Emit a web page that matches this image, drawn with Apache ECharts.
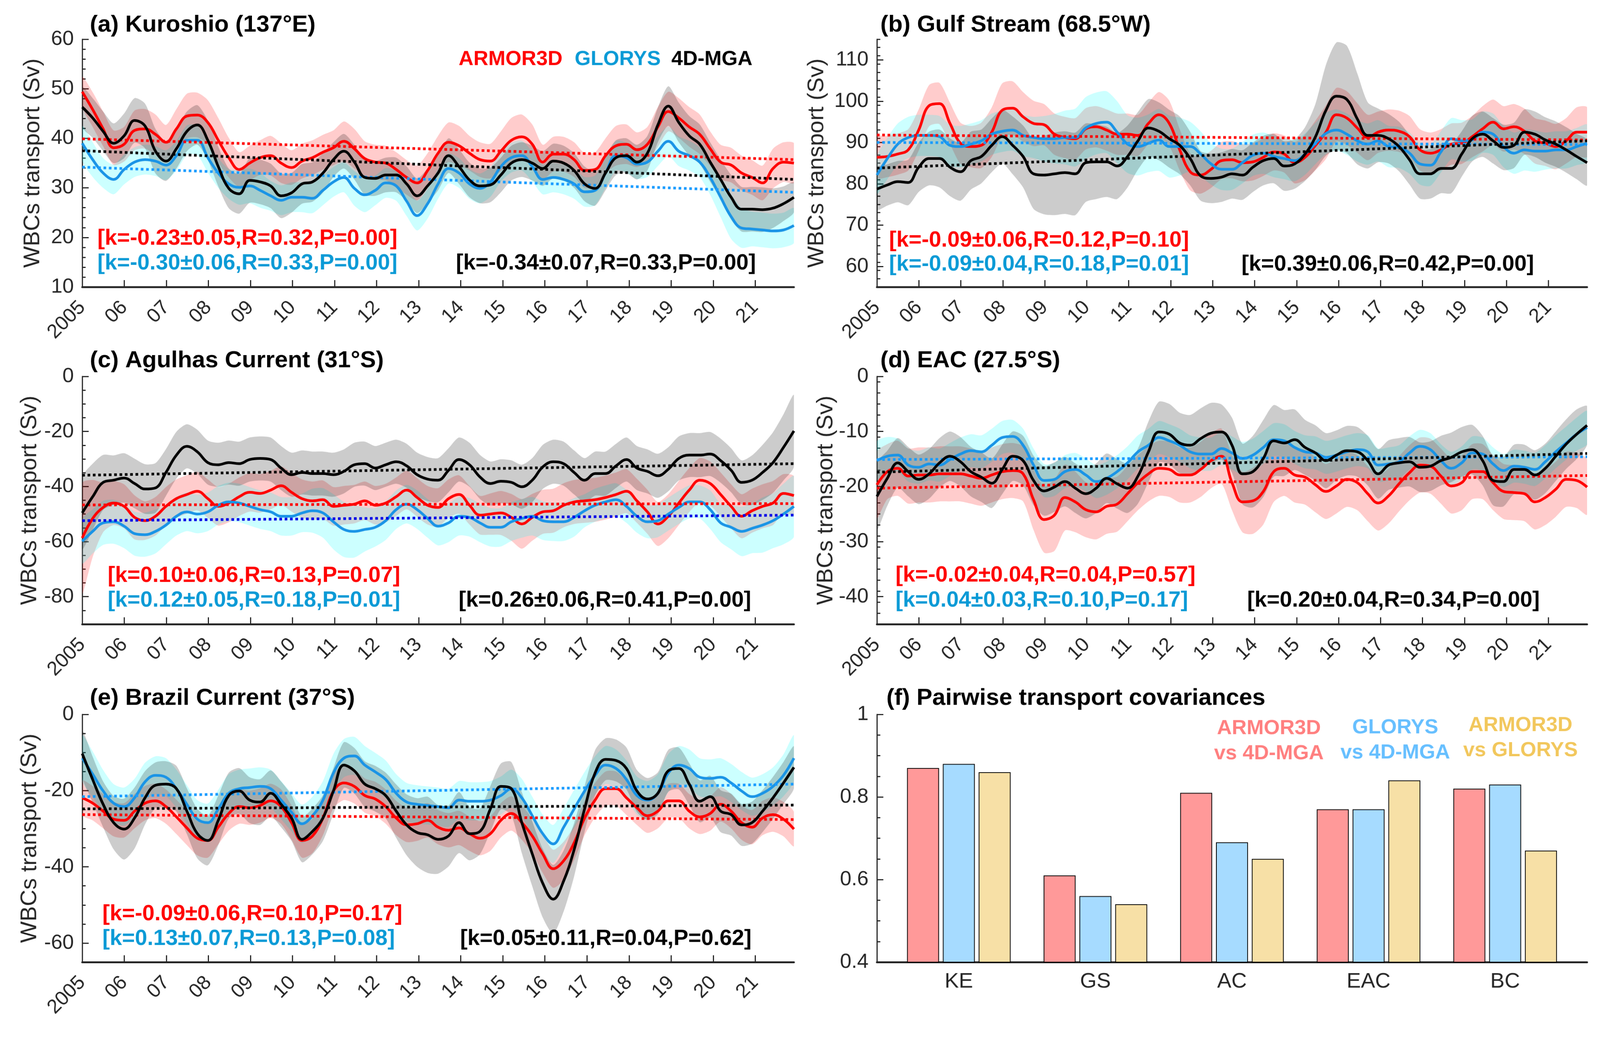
<!DOCTYPE html>
<html><head><meta charset="utf-8">
<script src="https://cdn.jsdelivr.net/npm/echarts@6/dist/echarts.min.js"></script>
<style>html,body{margin:0;padding:0;background:#fff;overflow:hidden}#wrap{width:4204px;height:2706px;transform-origin:0 0}#c{width:4204px;height:2706px}</style>
</head><body><div id="wrap"><div id="c"></div></div>
<script>
// ---------- time axis (quarter-year sampling, Jan 2005 .. Dec 2021) ----------
const T = Array.from({length: 69}, (_, i) => 2005 + i * 16.92 / 68);
const YEAR_TICKS = [2005,2006,2007,2008,2009,2010,2011,2012,2013,2014,2015,2016,2017,2018,2019,2020,2021];
const YEAR_LABELS = ['2005','06','07','08','09','10','11','12','13','14','15','16','17','18','19','20','21'];

// ---------- (a) Kuroshio ----------
const KE_ARMOR = [49.4,45.8,41.9,38.1,38.8,41.6,41.9,40.8,39.2,41.9,44.5,44.7,43.2,39.6,36.1,33.7,35.0,36.1,36.5,35.0,34.1,35.4,36.1,37.2,38.1,39.4,37.9,35.9,35.2,35.0,33.7,32.1,31.0,33.5,37.0,39.2,38.5,37.0,35.7,35.4,37.4,39.6,40.3,38.8,35.2,36.8,36.8,35.7,33.5,33.7,36.5,38.5,38.8,37.7,38.8,42.3,45.4,44.1,42.3,40.8,37.9,35.2,34.6,33.0,32.1,31.0,33.9,35.2,35.0];
const KE_GLORYS = [39.0,35.7,33.0,31.7,33.7,35.2,35.7,35.4,34.6,36.5,39.6,39.6,36.1,33.0,30.8,30.1,30.4,29.5,28.4,27.5,28.1,28.1,27.9,29.5,31.2,32.1,29.9,28.6,29.5,31.0,30.4,27.3,24.4,26.8,30.8,33.9,33.0,30.8,29.9,31.2,34.3,36.1,36.5,34.3,31.7,32.1,31.7,30.8,29.2,29.5,33.0,36.5,36.1,34.8,35.2,37.4,39.4,37.4,36.5,35.2,32.1,28.1,24.2,21.9,21.7,21.5,21.3,21.5,22.4];
const KE_MGA = [46.3,44.1,41.4,39.0,40.5,43.6,42.5,37.4,35.4,37.9,41.4,42.7,39.6,34.3,29.9,28.8,31.5,31.2,30.4,28.4,29.0,30.8,31.2,33.0,35.7,37.4,35.2,32.1,31.9,32.6,32.6,30.8,28.4,30.4,33.0,36.5,34.3,31.6,30.4,30.6,32.6,35.0,35.7,35.0,33.9,35.4,35.0,33.5,30.8,29.9,33.0,36.1,36.5,35.2,37.0,42.7,46.5,43.2,40.5,38.8,35.2,31.7,28.1,25.7,25.7,25.6,25.9,26.8,28.1];
const KE_ARMOR_SPREAD = [3,3.5,3.5,3.5, 3.5,4,4,4, 3.5,4,4.5,4.5, 4.5,4.5,4,3.5, 3.5,3.5,4,4, 3.5,3.5,3.5,3.5, 3.5,4,4,3.5, 3.5,3.5,3.5,3.5, 3.5,3.5,3.5,4, 4,3.5,3.5,3.5, 4,4.5,4.5,4, 3.5,3.5,3.5,3.5, 3.5,3.5,3.5,4, 4,3.5,3.5,4, 4,4,4,4, 3.5,3.5,3.5,3.5, 3.5,3.5,4,4,4];
const KE_GLORYS_SPREAD = [3.5,3.5,3,3, 3,3,3,3, 3,3,3,3, 3,3,3,3.5, 3.5,3.5,3,3, 3,3,3,3, 3,3,3.5,3.5, 3,3,3,3, 3,3,3,3, 3,3,3,3, 3,3,3,3, 3,3,3,3, 3,3,3,3, 3,3,3,3, 3,3,3,3, 3.5,4,4.5,4, 3.5,3.5,3.5,3.5,3.5];
const KE_MGA_SPREAD = [4,4,4,4, 4.5,4.5,4.5,4.5, 4,4,4,4, 4,4,4,4, 4.5,4.5,4.5,4.5, 4,4,4,4, 3.5,3.5,3.5,3.5, 3.5,3.5,3.5,3.5, 3.5,3.5,3.5,3.5, 3.5,3.5,3.5,3.5, 3.5,3.5,3.5,3.5, 3.5,3.5,3.5,3.5, 3.5,3.5,3.5,3.5, 3.5,3.5,3.5,3.5, 4,4,4,4, 4,4,4.5,4.5, 4.5,4.5,4,3.5,3];
const KE_TREND = {armor: [39.9, 35.7], glorys: [34.2, 29.1], mga: [37.5, 31.7]};

// ---------- (b) Gulf Stream ----------
const GS_ARMOR = [86.4,86.6,87.2,88.2,93.0,98.9,99.4,94.6,89.8,89.0,89.3,92.5,97.8,98.3,96.2,94.6,94.3,92.0,91.2,90.9,93.3,93.8,93.0,92.0,92.0,91.7,94.6,96.7,94.6,88.2,82.9,82.1,83.5,85.6,85.8,85.1,85.3,86.4,87.7,87.2,85.1,86.4,89.3,92.5,96.7,95.9,93.5,91.2,92.5,93.0,92.7,91.4,88.2,87.4,88.2,89.6,89.8,91.4,93.3,94.9,93.3,93.8,92.7,90.4,89.8,89.0,90.4,92.5,92.5];
const GS_GLORYS = [82.1,86.1,89.6,91.2,91.7,91.7,91.4,89.3,89.0,89.6,90.4,92.0,92.7,93.0,91.7,91.2,90.9,90.9,91.2,91.2,93.5,94.6,94.9,92.5,89.6,89.0,89.8,90.6,89.0,89.0,89.0,87.2,84.8,83.5,83.5,85.1,86.9,87.4,86.6,86.1,85.6,87.2,89.8,92.2,93.0,92.0,90.4,89.6,90.4,89.0,88.8,87.4,84.8,84.5,87.7,90.9,90.4,90.6,92.5,92.0,89.0,87.4,88.2,87.9,87.9,88.2,88.2,89.0,89.8];
const GS_MGA = [78.7,79.7,80.5,80.3,84.0,86.1,86.1,84.0,82.9,85.6,86.6,89.3,91.4,89.3,86.6,82.4,82.1,82.4,82.7,82.4,85.1,85.3,85.3,84.3,86.6,90.4,93.5,92.7,90.9,89.3,86.1,81.9,81.3,81.6,82.4,82.1,84.0,85.6,86.1,84.3,84.8,87.2,91.4,97.8,101.2,100.4,95.7,91.7,91.7,90.9,89.0,85.8,82.4,82.4,83.7,83.7,87.2,90.9,92.0,90.4,88.8,89.3,92.5,92.0,90.6,89.6,88.2,86.6,85.1];
const GS_ARMOR_SPREAD = [5,5,5,5, 5,5,5,5, 5,5,5.5,6, 6.5,6.5,6,5.5, 5,5,5,5, 5,5,5,5, 5,5,5,5.5, 5.5,5,4.5,4.5, 4.5,4.5,4.5,4.5, 4.5,4.5,4.5,4.5, 5,5.5,6,6.5, 6.5,6.5,6,5.5, 5,5,5,5, 5,5,5,5, 5,5,5.5,5.5, 5.5,5.5,5.5,5.5, 5.5,5.5,5.5,6,6];
const GS_GLORYS_SPREAD = [4.5,5,5,5, 5,5,5,5, 5,5,5,5, 5,5,5,5, 5.5,6,6.5,7, 7.5,7.5,7.5,7.5, 7,7,7,7.5, 7.5,7,6,5.5, 5,5,5,5, 5,5,5,5, 5,5,5,5, 5,5,5,5, 5,5,5,5, 5,5,5,5, 5,5,5,5, 5,5,5,5, 4.5,4.5,4.5,4.5,4.5];
const GS_MGA_SPREAD = [5,5,5,5.5, 6,6.5,7,7, 7,7,6.5,6.5, 6.5,7,7.5,8.5, 9.5,10,10,10, 9.5,9,8.5,8, 7.5,7,7,7, 7,7,6.5,6, 6,6,6,6, 6,6,6,6, 6,6.5,8,11, 13,13,11,8, 6.5,6,6,6, 6,6,6,6, 5.5,5.5,5.5,5.5, 5.5,5.5,5.5,5.5, 5.5,5.5,5.5,5.5,5.5];
const GS_TREND = {armor: [91.8, 90.6], glorys: [90.0, 89.5], mga: [83.8, 90.4]};

// ---------- (c) Agulhas Current ----------
const AC_ARMOR = [-58.7,-51.6,-47.6,-46.0,-47.2,-51.2,-52.4,-50.8,-47.2,-44.4,-42.9,-41.7,-44.4,-47.2,-46.0,-43.7,-42.1,-42.5,-41.3,-39.7,-42.1,-44.4,-45.2,-44.8,-47.2,-46.8,-46.4,-45.2,-46.8,-46.0,-43.7,-41.3,-44.0,-46.8,-47.6,-44.4,-42.9,-46.8,-50.4,-50.0,-49.6,-51.2,-53.6,-51.2,-49.2,-48.8,-46.8,-45.6,-45.2,-44.8,-44.0,-42.9,-41.7,-45.2,-49.2,-53.6,-50.8,-46.0,-41.3,-37.7,-38.9,-42.9,-47.2,-50.8,-48.8,-47.2,-46.0,-42.5,-43.3];
const AC_GLORYS = [-59.9,-56.3,-53.2,-52.8,-54.4,-57.1,-57.5,-56.3,-54.0,-50.8,-49.2,-50.0,-49.2,-46.8,-45.6,-46.0,-47.2,-48.4,-49.2,-50.8,-50.8,-49.6,-48.8,-49.6,-52.8,-55.6,-56.3,-55.6,-54.8,-52.4,-48.4,-46.4,-48.4,-51.6,-54.4,-53.2,-50.8,-51.2,-53.2,-54.8,-54.8,-52.8,-51.6,-50.8,-52.4,-52.8,-52.8,-51.2,-48.8,-46.8,-45.6,-44.8,-47.2,-50.8,-52.8,-52.4,-50.0,-47.6,-45.6,-45.6,-48.4,-53.2,-54.8,-56.3,-55.2,-54.0,-52.4,-50.0,-47.2];
const AC_MGA = [-49.6,-43.7,-38.5,-37.7,-36.9,-38.9,-40.9,-40.5,-34.9,-28.6,-25.4,-27.4,-31.3,-32.1,-31.3,-31.7,-30.2,-29.8,-30.2,-33.3,-35.7,-34.9,-35.3,-35.3,-35.7,-34.5,-32.1,-31.7,-33.3,-32.1,-31.0,-32.5,-35.7,-37.3,-37.7,-34.1,-30.2,-32.1,-36.5,-38.9,-38.1,-38.5,-40.1,-37.7,-32.9,-31.0,-31.7,-34.9,-37.7,-35.3,-35.3,-32.5,-30.2,-33.3,-34.5,-36.1,-33.7,-29.8,-28.6,-28.6,-28.2,-30.6,-34.1,-38.5,-37.7,-34.9,-31.3,-25.8,-19.8];
const AC_ARMOR_SPREAD = [20,14,9,8, 8,8,7,7, 7,7,7,7, 7,7,7,7, 7,7,7,7, 7,7,7,7, 7,7,7,7, 7,7,7,7, 7,7,7,7, 7,7,7,7.5, 8,8.5,9,8.5, 8,8,8,8, 8,8,8,8, 8,8,8,8, 8,8,8,8, 8,8,8,8, 8,8,8,7,7];
const AC_GLORYS_SPREAD = [8,8,8,8, 8,8,8,8, 7,7,7,7, 7,7,7,7, 7,7,7,7, 7,7,8,9, 10,10,9.5,8, 7,7,7,7, 7,7,7,7, 7,7,7,7, 7,7,7,7, 7,7,7,7, 6,6,6,6, 6,6,6,6, 6,6,6,6, 7,7,8,9, 9,10,10,11,11];
const AC_MGA_SPREAD = [13,12,10,9, 9,9,9,9, 8.5,8.5,8,8, 8,8,8,8, 8,8,8,8, 8,8,8,8, 8,8,8,8, 8,8,8,8, 8,8,8,8, 8,8,8,8, 8,8,8,8, 8,8,8,8, 8,8,8,8, 8,8,8,8, 8,8,8,8, 8,8,8,8, 9,10,11,12,13];
const AC_TREND = {armor: [-46.7, -46.2], glorys: [-52.4, -50.4], mga: [-35.9, -31.7]};

// ---------- (d) EAC ----------
const EAC_ARMOR = [-19.7,-17.3,-16.7,-18.1,-17.9,-17.9,-17.7,-17.7,-17.7,-18.1,-18.5,-17.9,-17.3,-17.1,-17.7,-22.4,-26.0,-25.2,-22.0,-22.8,-24.2,-24.6,-23.6,-23.2,-21.3,-19.3,-17.7,-16.7,-16.9,-17.9,-17.9,-16.9,-15.3,-14.5,-19.3,-22.8,-22.6,-20.9,-17.3,-16.7,-17.9,-18.3,-19.7,-20.9,-19.9,-18.7,-19.3,-21.3,-23.0,-21.7,-19.5,-17.5,-16.1,-16.3,-18.1,-19.9,-19.3,-17.3,-17.3,-19.3,-20.9,-21.1,-21.3,-22.8,-22.0,-20.5,-18.7,-18.9,-20.1];
const EAC_GLORYS = [-15.3,-14.5,-14.3,-16.1,-16.5,-15.9,-16.1,-15.1,-14.1,-13.5,-13.7,-12.5,-11.1,-10.9,-12.5,-16.1,-18.9,-18.7,-17.3,-16.9,-17.9,-19.1,-18.5,-17.3,-15.7,-13.7,-12.5,-11.1,-11.7,-12.5,-13.7,-14.1,-14.1,-13.1,-13.9,-14.9,-14.3,-12.9,-11.5,-11.7,-12.9,-13.7,-13.9,-14.7,-14.3,-13.7,-13.3,-13.7,-16.1,-15.9,-15.5,-13.9,-12.7,-13.3,-15.3,-16.7,-15.7,-13.9,-14.1,-15.9,-17.1,-16.3,-16.5,-16.9,-15.5,-13.7,-12.1,-10.5,-9.3];
const EAC_MGA = [-21.8,-18.5,-15.7,-17.3,-18.7,-17.7,-15.7,-14.5,-15.5,-17.3,-18.3,-19.4,-16.9,-14.5,-15.3,-18.9,-20.8,-20.1,-19.1,-20.3,-21.3,-20.3,-18.5,-19.5,-20.3,-18.1,-13.7,-10.1,-10.5,-12.1,-12.5,-11.3,-10.3,-10.1,-12.5,-17.7,-17.3,-14.9,-11.7,-12.1,-11.5,-12.9,-13.9,-15.3,-14.3,-13.5,-13.7,-15.3,-17.7,-16.1,-15.7,-15.5,-16.5,-16.3,-15.3,-14.7,-13.7,-13.3,-15.3,-18.9,-19.1,-16.9,-16.9,-17.9,-16.7,-14.5,-12.3,-10.5,-8.9];
const EAC_ARMOR_SPREAD = [6,5,5,5, 5,5,5,5, 5,5,5,5, 5,5,5,5.5, 6,6.5,6,5.5, 5,5,5,5, 5,5,5,5, 5,5,5,5, 5,5,5,5.5, 6,6,5.5,5, 5,5,5,5, 5,5,5,5, 5,5,5,5, 5,5,5,5, 5,5,5,5, 5,5,5,5, 5,5,5,5, 5,5,5,5,4.5];
const EAC_GLORYS_SPREAD = [3.5,3.5,3,3, 3,3,3,3, 3,3,3,3, 3,3,3,3, 3,3,3,3, 3,3,3,3, 3,3,3,3, 3,3,3,3, 3,3,3,3, 3,3,3,3, 3,3,3,3, 3,3,3,3, 3,3,3,3, 3,3,3,3, 3,3,3,3, 3,3,3,3, 3,3,3,3,3];
const EAC_MGA_SPREAD = [6,5,4.5,4.5, 4.5,4.5,4.5,4.5, 4.5,4.5,4.5,4.5, 4.5,4.5,4.5,4.5, 4.5,4.5,4.5,4.5, 4.5,4.5,4.5,4.5, 4.5,5,5.5,5.5, 5.5,5.5,5.5,5.5, 5.5,5,5,5.5, 6.5,7,6.5,6, 5.5,5,5,5, 4.5,4.5,4.5,4.5, 4.5,4.5,4.5,4.5, 4.5,4.5,4.5,4.5, 4.5,4.5,4.5,4.5, 4.5,4.5,4.5,4.5, 4.5,4.5,4.5,4.5,3.5];
const EAC_TREND = {armor: [-20.3, -18.0], glorys: [-15.1, -14.6], mga: [-17.4, -14.0]};

// ---------- (e) Brazil Current ----------
const BC_ARMOR = [-21.9,-23.3,-25.4,-27.5,-27.8,-25.4,-23.3,-22.7,-24.2,-26.9,-29.8,-32.5,-33.1,-29.6,-26.0,-24.2,-24.5,-23.9,-22.7,-24.2,-28.4,-33.1,-31.9,-27.2,-20.1,-18.0,-18.9,-21.3,-22.2,-24.2,-27.2,-29.0,-28.7,-27.8,-29.6,-30.4,-29.8,-31.3,-32.5,-31.3,-27.8,-26.0,-28.4,-31.9,-36.6,-40.5,-38.4,-33.7,-27.2,-22.5,-19.5,-19.5,-21.9,-24.5,-26.6,-25.4,-22.7,-22.7,-25.4,-26.9,-26.0,-23.6,-25.4,-28.4,-29.6,-27.2,-26.3,-27.5,-30.1];
const BC_GLORYS = [-11.5,-15.7,-20.1,-23.3,-24.2,-21.9,-17.7,-16.0,-16.5,-19.5,-23.6,-27.5,-28.4,-24.8,-20.7,-19.5,-19.2,-18.9,-19.5,-22.5,-25.7,-28.7,-26.6,-22.5,-15.4,-11.5,-10.9,-13.3,-15.1,-17.1,-20.7,-23.0,-23.6,-23.9,-24.2,-24.5,-22.5,-22.8,-22.8,-22.5,-21.3,-19.5,-21.9,-26.6,-31.3,-34.0,-29.6,-24.8,-20.1,-16.0,-13.3,-14.2,-17.1,-21.3,-22.5,-20.7,-15.4,-13.3,-14.2,-16.5,-16.8,-16.5,-18.0,-20.1,-21.6,-20.7,-18.9,-16.0,-11.5];
const BC_MGA = [-10.3,-17.1,-23.6,-28.4,-30.1,-27.2,-21.9,-18.6,-18.3,-19.5,-25.4,-31.3,-33.1,-27.8,-21.3,-20.1,-22.5,-23.0,-20.7,-23.6,-27.2,-32.8,-30.7,-27.2,-20.1,-13.3,-14.8,-18.3,-19.5,-21.3,-25.4,-29.0,-31.0,-31.6,-32.8,-31.9,-28.4,-31.3,-30.7,-24.8,-18.9,-19.5,-28.4,-36.6,-44.3,-48.5,-43.7,-35.5,-24.8,-15.4,-11.8,-12.1,-14.2,-20.1,-22.2,-20.7,-14.8,-14.2,-18.3,-22.8,-21.6,-25.4,-26.3,-29.0,-28.4,-25.4,-21.9,-18.0,-13.9];
const BC_ARMOR_SPREAD = [4.5,4.5,4.5,4.5, 4.5,4.5,4.5,4.5, 4.5,4.5,4.5,4.5, 4.5,4.5,4.5,4.5, 4.5,4.5,4.5,4.5, 4.5,4.5,4.5,4.5, 4.5,4.5,4.5,4.5, 4.5,4.5,4.5,4.5, 4.5,4.5,4.5,4.5, 4.5,4.5,4.5,4.5, 4.5,4.5,4.5,4.5, 5,5,5,4.5, 4.5,4.5,4.5,4.5, 4.5,4.5,4.5,4.5, 4.5,4.5,4.5,4.5, 4.5,4.5,4.5,4.5, 4.5,4.5,4.5,4.5,4.5];
const BC_GLORYS_SPREAD = [6,6,5.5,5, 5,5,5,5, 5,5,5,5, 5,5,5,5, 5,5,5,5, 5,5,5,5, 5,5,5,5, 5,5,5,5, 5,5,5,5, 5,5,5,5, 5,5,5,5, 5,5,5,5, 5,5,5,5, 5,5,5,5, 5,5,5,5, 5,5,5,5, 5,5,5,5.5,6];
const BC_MGA_SPREAD = [6,6,6,7, 8,8,7,6, 6,6,6,6.5, 6.5,6.5,6,6, 6,6,6,6, 6,6,6,6, 6,6,6,6, 6,6,7,8, 9,10,9,8, 8,7,6,6, 6,7,8,8.5, 9,9,8,7, 6,6,5.5,5.5, 5.5,5.5,5.5,5.5, 5.5,5.5,5.5,5.5, 5.5,5.5,5.5,5.5, 5.5,5.5,5.5,5.5,5.5];
const BC_TREND = {armor: [-26.3, -27.6], glorys: [-21.6, -18.3], mga: [-24.8, -23.8]};

// ---------- (f) Pairwise covariances ----------
const COV_CATS = ['KE','GS','AC','EAC','BC'];
const COV_ARMOR_MGA = [0.87, 0.61, 0.81, 0.77, 0.82];
const COV_GLORYS_MGA = [0.88, 0.56, 0.69, 0.77, 0.83];
const COV_ARMOR_GLORYS = [0.86, 0.54, 0.65, 0.84, 0.67];
const COV_TICKS = [0.4, 0.6, 0.8, 1];

// ---------- tick labels ----------
const Y_MAJ_A = [10,20,30,40,50,60];
const Y_MAJ_B = [60,70,80,90,100,110];
const Y_MAJ_C = [-80,-60,-40,-20,0];
const Y_MAJ_D = [-40,-30,-20,-10,0];
const Y_MAJ_E = [-60,-40,-20,0];

// ---------- fit the 4204x2706 design into the actual viewport (uniform scale) ----------
(function () {
  const s = window.innerWidth / 4204;
  if (Math.abs(s - 1) > 0.002) {
    document.getElementById('wrap').style.transform = 'scale(' + s + ')';
  }
})();

// ---------- styling ----------
const FONT = '"Liberation Sans", Arial, sans-serif';
const AX = '#262626';
const RED = '#ff0000', BLUE = '#1a94e6', BLACK = '#000000';
const BAND_RED = 'rgba(255,0,0,0.2)', BAND_CYAN = 'rgba(0,255,255,0.2)', BAND_GRAY = 'rgba(0,0,0,0.2)';
const X_END = 2021.92;

function steps(a, b, s) { const r = []; for (let v = a; v <= b + 1e-9; v += s) r.push(+v.toFixed(4)); return r; }

const panels = [
  {ymin:10, ymax:60, maj:Y_MAJ_A, minStep:2, nameGap:100, armor:KE_ARMOR, glorys:KE_GLORYS, mga:KE_MGA, wa:KE_ARMOR_SPREAD, wg:KE_GLORYS_SPREAD, wm:KE_MGA_SPREAD, trend:KE_TREND, tBlue:'#1a9cff'},
  {ymin:55, ymax:115, maj:Y_MAJ_B, minStep:2, nameGap:128, armor:GS_ARMOR, glorys:GS_GLORYS, mga:GS_MGA, wa:GS_ARMOR_SPREAD, wg:GS_GLORYS_SPREAD, wm:GS_MGA_SPREAD, trend:GS_TREND, tBlue:'#1a9cff'},
  {ymin:-90, ymax:0, maj:Y_MAJ_C, minStep:5, nameGap:108, armor:AC_ARMOR, glorys:AC_GLORYS, mga:AC_MGA, wa:AC_ARMOR_SPREAD, wg:AC_GLORYS_SPREAD, wm:AC_MGA_SPREAD, trend:AC_TREND, tBlue:'#0000e6'},
  {ymin:-45, ymax:0, maj:Y_MAJ_D, minStep:2, nameGap:88, armor:EAC_ARMOR, glorys:EAC_GLORYS, mga:EAC_MGA, wa:EAC_ARMOR_SPREAD, wg:EAC_GLORYS_SPREAD, wm:EAC_MGA_SPREAD, trend:EAC_TREND, tBlue:'#1a9cff'},
  {ymin:-65, ymax:0, maj:Y_MAJ_E, minStep:5, nameGap:108, armor:BC_ARMOR, glorys:BC_GLORYS, mga:BC_MGA, wa:BC_ARMOR_SPREAD, wg:BC_GLORYS_SPREAD, wm:BC_MGA_SPREAD, trend:BC_TREND, tBlue:'#1a9cff'}
];

const LEFTS = [216, 2304], WIDTHS = [1870, 1866], TOPS = [103, 989, 1877], H = 651;
const grid = [], xAxis = [], yAxis = [], series = [];
for (let g = 0; g < 6; g++) {
  grid.push({left: LEFTS[g % 2], width: WIDTHS[g % 2], top: TOPS[Math.floor(g / 2)], height: H});
}

function yAxes(g, min, max, maj, minors, name, nameGap, fmt) {
  yAxis.push({
    gridIndex: g, type: 'value', min, max, position: 'left', offset: 0,
    axisLine: {show: true, onZero: false, lineStyle: {color: AX, width: 3}},
    axisTick: {show: true, inside: true, length: 17, lineStyle: {color: AX, width: 3}, customValues: maj},
    axisLabel: {customValues: maj, fontSize: 54, color: AX, margin: 22, fontFamily: FONT, formatter: fmt},
    splitLine: {show: false},
    name, nameLocation: 'middle', nameGap,
    nameTextStyle: {fontSize: 60, color: AX, fontFamily: FONT}
  });
  yAxis.push({
    gridIndex: g, type: 'value', min, max, position: 'left', offset: 0,
    axisLine: {show: false, onZero: false},
    axisTick: {show: true, inside: true, length: 9, lineStyle: {color: AX, width: 3}, customValues: minors},
    axisLabel: {show: false}, splitLine: {show: false}
  });
}

// shaded spread band: one polygon drawn through the axis scales
function band(g, vals, w, color) {
  const up = T.map((t, i) => [t, vals[i] + w[i]]);
  const lo = T.map((t, i) => [t, vals[i] - w[i]]);
  return {
    type: 'custom', xAxisIndex: g, yAxisIndex: 2 * g, silent: true, clip: true,
    data: T.map((t, i) => [t, lo[i][1], up[i][1]]), encode: {x: 0, y: [1, 2]},
    renderItem(params, api) {
      if (params.dataIndex !== 0) return null;
      const pts = up.map(p => api.coord(p)).concat(lo.slice().reverse().map(p => api.coord(p)));
      return {type: 'polygon', shape: {points: pts, smooth: 0.25}, style: {fill: color}};
    }
  };
}
function line(g, vals, color) {
  return {type: 'line', xAxisIndex: g, yAxisIndex: 2 * g, data: T.map((t, i) => [t, vals[i]]), smooth: 0.4, symbol: 'none', silent: true, lineStyle: {color, width: 7}};
}
function trend(g, ends, color) {
  return {type: 'line', xAxisIndex: g, yAxisIndex: 2 * g, data: [[2005, ends[0]], [X_END, ends[1]]], symbol: 'none', silent: true, lineStyle: {color, width: 7, type: [7, 7]}};
}

panels.forEach((p, g) => {
  xAxis.push({
    gridIndex: g, type: 'value', min: 2005, max: X_END,
    axisLine: {show: true, onZero: false, lineStyle: {color: AX, width: 5}},
    axisTick: {show: true, inside: true, length: 18, lineStyle: {color: AX, width: 3}, customValues: YEAR_TICKS},
    axisLabel: {customValues: YEAR_TICKS, rotate: 45, fontSize: 52, color: AX, margin: 46, fontFamily: FONT,
      formatter: v => YEAR_LABELS[YEAR_TICKS.indexOf(Math.round(v))]},
    splitLine: {show: false}
  });
  yAxes(g, p.ymin, p.ymax, p.maj, steps(p.ymin, p.ymax, p.minStep), 'WBCs transport (Sv)', p.nameGap);
  series.push(band(g, p.armor, p.wa, BAND_RED));
  series.push(band(g, p.glorys, p.wg, BAND_CYAN));
  series.push(line(g, p.armor, RED));
  series.push(line(g, p.glorys, BLUE));
  series.push(band(g, p.mga, p.wm, BAND_GRAY));
  series.push(trend(g, p.trend.armor, RED));
  series.push(trend(g, p.trend.glorys, p.tBlue));
  series.push(trend(g, p.trend.mga, BLACK));
  series.push(line(g, p.mga, BLACK));
});

// (f) bar panel
xAxis.push({
  gridIndex: 5, type: 'value', min: 0.4, max: 5.6,
  axisLine: {show: true, onZero: false, lineStyle: {color: AX, width: 5}},
  axisTick: {show: true, inside: true, length: 18, lineStyle: {color: AX, width: 3}, customValues: [1, 2, 3, 4, 5]},
  axisLabel: {customValues: [1, 2, 3, 4, 5], fontSize: 56, color: AX, margin: 24, fontFamily: FONT,
    formatter: v => COV_CATS[Math.round(v) - 1]},
  splitLine: {show: false}
});
yAxes(5, 0.4, 1, COV_TICKS, steps(0.4, 1, 0.05), '', 0, v => String(+v.toFixed(1)));
const barColors = ['#ff9999', '#a6dbff', '#f7e0a6'];
[COV_ARMOR_MGA, COV_GLORYS_MGA, COV_ARMOR_GLORYS].forEach((arr, k) => {
  series.push({
    type: 'bar', xAxisIndex: 5, yAxisIndex: 10, silent: true,
    data: arr.map((v, i) => [i + 1, v]),
    barWidth: 84, barGap: '12%',
    itemStyle: {color: barColors[k], borderColor: '#000', borderWidth: 2}
  });
});

// ---------- text ----------
const graphic = [];
function txt(x, y, text, fill, size, bold, align, lh) {
  graphic.push({type: 'text', x, y, z: 100, silent: true,
    style: {text, fill, font: (bold ? 'bold ' : '') + size + 'px ' + FONT, align: align || 'left', verticalAlign: 'middle', lineHeight: lh}});
}
txt(236, 66, '(a) Kuroshio (137°E)', '#000', 62, true);
txt(2313, 66, '(b) Gulf Stream (68.5°W)', '#000', 62, true);
txt(236, 948, '(c) Agulhas Current (31°S)', '#000', 62, true);
txt(2313, 948, '(d) EAC (27.5°S)', '#000', 62, true);
txt(236, 1835, '(e) Brazil Current (37°S)', '#000', 62, true);
txt(2329, 1835, '(f) Pairwise transport covariances', '#000', 62, true);

txt(1205, 156, 'ARMOR3D', '#ff0000', 54, true);
txt(1510, 156, 'GLORYS', '#0a9ad6', 54, true);
txt(1764, 156, '4D-MGA', '#000', 54, true);

const ANNOT = [
  {x: [256, 256, 1198], y: [627, 692, 692], t: ['[k=-0.23±0.05,R=0.32,P=0.00]', '[k=-0.30±0.06,R=0.33,P=0.00]', '[k=-0.34±0.07,R=0.33,P=0.00]']},
  {x: [2336, 2336, 3262], y: [632, 695, 695], t: ['[k=-0.09±0.06,R=0.12,P=0.10]', '[k=-0.09±0.04,R=0.18,P=0.01]', '[k=0.39±0.06,R=0.42,P=0.00]']},
  {x: [283, 283, 1205], y: [1513, 1578, 1578], t: ['[k=0.10±0.06,R=0.13,P=0.07]', '[k=0.12±0.05,R=0.18,P=0.01]', '[k=0.26±0.06,R=0.41,P=0.00]']},
  {x: [2353, 2353, 3277], y: [1512, 1578, 1578], t: ['[k=-0.02±0.04,R=0.04,P=0.57]', '[k=0.04±0.03,R=0.10,P=0.17]', '[k=0.20±0.04,R=0.34,P=0.00]']},
  {x: [269, 269, 1209], y: [2402, 2467, 2467], t: ['[k=-0.09±0.06,R=0.10,P=0.17]', '[k=0.13±0.07,R=0.13,P=0.08]', '[k=0.05±0.11,R=0.04,P=0.62]']}
];
const ANNOT_COLORS = ['#ff0000', '#0a9ad6', '#000000'];
ANNOT.forEach(a => a.t.forEach((s, k) => txt(a.x[k], a.y[k], s, ANNOT_COLORS[k], 58, true)));

txt(3334, 1947, 'ARMOR3D\nvs 4D-MGA', '#ff7f7f', 54, true, 'center', 66);
txt(3666, 1945, 'GLORYS\nvs 4D-MGA', '#66bfff', 54, true, 'center', 66);
txt(3995, 1939, 'ARMOR3D\nvs GLORYS', '#f2c75c', 54, true, 'center', 66);

const chart = echarts.init(document.getElementById('c'), null, {renderer: 'canvas'});
chart.setOption({animation: false, backgroundColor: '#fff', grid, xAxis, yAxis, series, graphic});
</script></body></html>
